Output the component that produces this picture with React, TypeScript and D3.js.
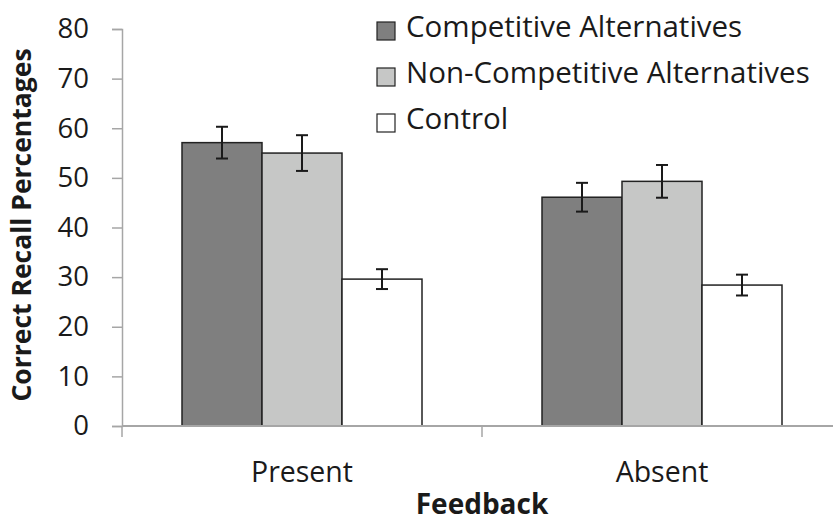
import { useRef, useEffect } from 'react';
import * as d3 from 'd3';

const categories = ['Present', 'Absent'];
const seriesNames = ['Competitive Alternatives', 'Non-Competitive Alternatives', 'Control'];
const seriesColors = ['#7f7f7f', '#c6c7c6', '#ffffff'];
const competitive = [57.1, 46.1];
const nonCompetitive = [55.0, 49.3];
const control = [29.6, 28.4];
const competitiveErr = [3.2, 2.9];
const nonCompetitiveErr = [3.6, 3.3];
const controlErr = [2.0, 2.1];
const yTicks = [0, 10, 20, 30, 40, 50, 60, 70, 80];

const width = 833;
const height = 522;
const font = "'Open Sans', sans-serif";

export default function App() {
  const svgRef = useRef<SVGSVGElement>(null);

  useEffect(() => {
    const svg = d3.select(svgRef.current);
    svg.selectAll('*').remove();

    const values = [competitive, nonCompetitive, control];
    const errs = [competitiveErr, nonCompetitiveErr, controlErr];

    const left = 122, right = 842, top = 29, bottom = 426;

    const x = d3.scaleBand().domain(categories).range([left, right]).paddingInner(0).paddingOuter(0);
    const inner = d3.scaleBand().domain(seriesNames).range([60, 300]);
    const y = d3.scaleLinear().domain([0, 80]).range([bottom, top]);

    // y axis
    const yAxis = svg.append('g')
      .attr('transform', `translate(${left},0)`)
      .call(d3.axisLeft(y).tickValues(yTicks).tickSize(10).tickPadding(23));
    yAxis.select('.domain').attr('stroke', '#a6a6a6').attr('stroke-width', 1.5);
    yAxis.selectAll('.tick line').attr('stroke', '#a6a6a6').attr('stroke-width', 1.5);
    yAxis.selectAll('.tick text')
      .attr('font-family', font).attr('font-size', 27.5).attr('fill', '#1a1a1a');

    // bars
    seriesNames.forEach((s, si) => {
      categories.forEach((c, ci) => {
        const x0 = x(c)! + inner(s)!;
        const v = values[si][ci];
        svg.append('rect')
          .attr('x', x0)
          .attr('y', y(v))
          .attr('width', inner.bandwidth())
          .attr('height', y(0) - y(v))
          .attr('fill', seriesColors[si])
          .attr('stroke', '#222')
          .attr('stroke-width', 1.5);
      });
    });

    // error bars
    seriesNames.forEach((s, si) => {
      categories.forEach((c, ci) => {
        const cx = x(c)! + inner(s)! + inner.bandwidth() / 2;
        const v = values[si][ci];
        const e = errs[si][ci];
        const g = svg.append('g').attr('stroke', '#1a1a1a').attr('stroke-width', 2);
        g.append('line').attr('x1', cx).attr('x2', cx).attr('y1', y(v + e)).attr('y2', y(v - e));
        g.append('line').attr('x1', cx - 6).attr('x2', cx + 6).attr('y1', y(v + e)).attr('y2', y(v + e));
        g.append('line').attr('x1', cx - 6).attr('x2', cx + 6).attr('y1', y(v - e)).attr('y2', y(v - e));
      });
    });

    // x axis
    const xAxis = svg.append('g').attr('transform', `translate(0,${bottom})`);
    xAxis.append('line').attr('x1', left).attr('x2', right).attr('stroke', '#a6a6a6').attr('stroke-width', 2);
    [left, x(categories[1])!, right].forEach(px => {
      xAxis.append('line').attr('x1', px).attr('x2', px).attr('y1', 0).attr('y2', 11)
        .attr('stroke', '#a6a6a6').attr('stroke-width', 1.5);
    });
    categories.forEach(c => {
      xAxis.append('text')
        .attr('x', x(c)! + x.bandwidth() / 2)
        .attr('y', 56)
        .attr('text-anchor', 'middle')
        .attr('font-family', font).attr('font-size', 28.5).attr('fill', '#1a1a1a')
        .text(c);
    });

    // axis titles
    svg.append('text')
      .attr('x', 482).attr('y', 514)
      .attr('text-anchor', 'middle')
      .attr('font-family', font).attr('font-size', 28).attr('font-weight', 'bold').attr('fill', '#1a1a1a')
      .text('Feedback');
    svg.append('text')
      .attr('transform', 'translate(31,225) rotate(-90)')
      .attr('text-anchor', 'middle')
      .attr('font-family', font).attr('font-size', 26.5).attr('font-weight', 'bold').attr('fill', '#1a1a1a')
      .text('Correct Recall Percentages');

    // legend
    const legend = svg.append('g').attr('transform', 'translate(377,0)');
    seriesNames.forEach((s, i) => {
      const ly = 31 + i * 46;
      legend.append('rect')
        .attr('x', 0).attr('y', ly - 9).attr('width', 18).attr('height', 18)
        .attr('fill', seriesColors[i]).attr('stroke', '#222').attr('stroke-width', 1.2);
      legend.append('text')
        .attr('x', 29).attr('y', ly + 6)
        .attr('font-family', font).attr('font-size', 29.5).attr('fill', '#1a1a1a')
        .text(s);
    });
  }, []);

  return (
    <svg ref={svgRef} width={width} height={height}
      style={{ position: 'absolute', left: 0, top: 0, background: '#fff' }} />
  );
}
